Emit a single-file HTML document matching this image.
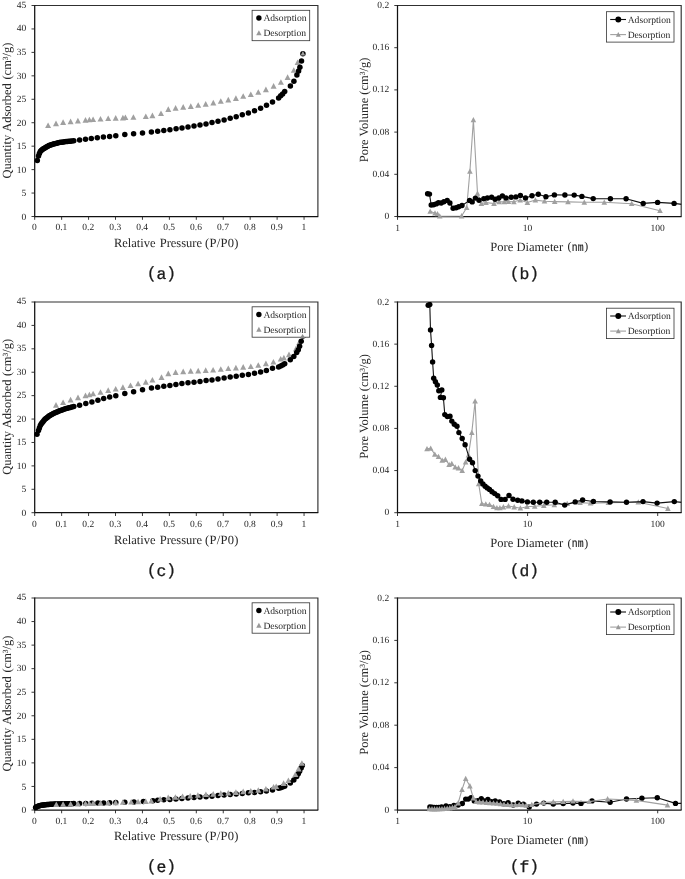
<!DOCTYPE html>
<html><head><meta charset="utf-8"><title>Isotherms and pore size distributions</title>
<style>
html,body{margin:0;padding:0;background:#fff;}
body{width:685px;height:879px;overflow:hidden;font-family:"Liberation Serif",serif;}
svg{display:block;filter:grayscale(1) blur(0.35px);text-rendering:geometricPrecision;}
</style></head><body>
<svg width="685" height="879" viewBox="0 0 685 879">
<rect width="685" height="879" fill="#fff"/>
<path d="M34.7 5.5H317.9V216.5" fill="none" stroke="#303030" stroke-width="1.15"/>
<path d="M34.7 5.1V216.5H318.3" fill="none" stroke="#111" stroke-width="1.25"/>
<path d="M31.5 216.5H34.7" stroke="#222" stroke-width="0.9"/>
<text x="26.2" y="219.65" font-size="9.5" text-anchor="end" font-family="Liberation Serif" fill="#262626" >0</text>
<path d="M31.5 193.06H34.7" stroke="#222" stroke-width="0.9"/>
<text x="26.2" y="196.13" font-size="9.5" text-anchor="end" font-family="Liberation Serif" fill="#262626" >5</text>
<path d="M31.5 169.61H34.7" stroke="#222" stroke-width="0.9"/>
<text x="26.2" y="172.6" font-size="9.5" text-anchor="end" font-family="Liberation Serif" fill="#262626" >10</text>
<path d="M31.5 146.17H34.7" stroke="#222" stroke-width="0.9"/>
<text x="26.2" y="149.08" font-size="9.5" text-anchor="end" font-family="Liberation Serif" fill="#262626" >15</text>
<path d="M31.5 122.72H34.7" stroke="#222" stroke-width="0.9"/>
<text x="26.2" y="125.55" font-size="9.5" text-anchor="end" font-family="Liberation Serif" fill="#262626" >20</text>
<path d="M31.5 99.28H34.7" stroke="#222" stroke-width="0.9"/>
<text x="26.2" y="102.03" font-size="9.5" text-anchor="end" font-family="Liberation Serif" fill="#262626" >25</text>
<path d="M31.5 75.83H34.7" stroke="#222" stroke-width="0.9"/>
<text x="26.2" y="78.5" font-size="9.5" text-anchor="end" font-family="Liberation Serif" fill="#262626" >30</text>
<path d="M31.5 52.39H34.7" stroke="#222" stroke-width="0.9"/>
<text x="26.2" y="54.98" font-size="9.5" text-anchor="end" font-family="Liberation Serif" fill="#262626" >35</text>
<path d="M31.5 28.94H34.7" stroke="#222" stroke-width="0.9"/>
<text x="26.2" y="31.45" font-size="9.5" text-anchor="end" font-family="Liberation Serif" fill="#262626" >40</text>
<path d="M31.5 5.5H34.7" stroke="#222" stroke-width="0.9"/>
<text x="26.2" y="7.93" font-size="9.5" text-anchor="end" font-family="Liberation Serif" fill="#262626" >45</text>
<path d="M34.7 216.5V219.8" stroke="#222" stroke-width="0.9"/>
<text x="34.4" y="230.3" font-size="9.5" text-anchor="middle" font-family="Liberation Serif" fill="#262626" >0</text>
<path d="M61.64 216.5V219.8" stroke="#222" stroke-width="0.9"/>
<text x="61.34" y="230.3" font-size="9.5" text-anchor="middle" font-family="Liberation Serif" fill="#262626" >0.1</text>
<path d="M88.57 216.5V219.8" stroke="#222" stroke-width="0.9"/>
<text x="88.27" y="230.3" font-size="9.5" text-anchor="middle" font-family="Liberation Serif" fill="#262626" >0.2</text>
<path d="M115.51 216.5V219.8" stroke="#222" stroke-width="0.9"/>
<text x="115.21" y="230.3" font-size="9.5" text-anchor="middle" font-family="Liberation Serif" fill="#262626" >0.3</text>
<path d="M142.44 216.5V219.8" stroke="#222" stroke-width="0.9"/>
<text x="142.14" y="230.3" font-size="9.5" text-anchor="middle" font-family="Liberation Serif" fill="#262626" >0.4</text>
<path d="M169.38 216.5V219.8" stroke="#222" stroke-width="0.9"/>
<text x="169.07" y="230.3" font-size="9.5" text-anchor="middle" font-family="Liberation Serif" fill="#262626" >0.5</text>
<path d="M196.31 216.5V219.8" stroke="#222" stroke-width="0.9"/>
<text x="196.01" y="230.3" font-size="9.5" text-anchor="middle" font-family="Liberation Serif" fill="#262626" >0.6</text>
<path d="M223.25 216.5V219.8" stroke="#222" stroke-width="0.9"/>
<text x="222.95" y="230.3" font-size="9.5" text-anchor="middle" font-family="Liberation Serif" fill="#262626" >0.7</text>
<path d="M250.18 216.5V219.8" stroke="#222" stroke-width="0.9"/>
<text x="249.88" y="230.3" font-size="9.5" text-anchor="middle" font-family="Liberation Serif" fill="#262626" >0.8</text>
<path d="M277.12 216.5V219.8" stroke="#222" stroke-width="0.9"/>
<text x="276.81" y="230.3" font-size="9.5" text-anchor="middle" font-family="Liberation Serif" fill="#262626" >0.9</text>
<path d="M304.05 216.5V219.8" stroke="#222" stroke-width="0.9"/>
<text x="303.75" y="230.3" font-size="9.5" text-anchor="middle" font-family="Liberation Serif" fill="#262626" >1</text>
<text y="247.1" font-size="12.5" font-family="Liberation Serif" fill="#262626"><tspan x="113.9">Relative</tspan><tspan x="159.7">Pressure</tspan><tspan x="205.0" letter-spacing="0.3">(P/P0)</tspan></text>
<text x="0" y="0" font-size="12.5" text-anchor="middle" font-family="Liberation Serif" fill="#262626" word-spacing="0.5" transform="translate(10.9 110.5) rotate(-90)">Quantity Adsorbed (cm³/g)</text>
<path d="M48.1 122.42L51.1 128.02L45.1 128.02Z" fill="#a0a0a0"/>
<path d="M56 120.62L59 126.22L53 126.22Z" fill="#a0a0a0"/>
<path d="M63.1 119.32L66.1 124.92L60.1 124.92Z" fill="#a0a0a0"/>
<path d="M70.6 118.62L73.6 124.22L67.6 124.22Z" fill="#a0a0a0"/>
<path d="M77.9 117.82L80.9 123.42L74.9 123.42Z" fill="#a0a0a0"/>
<path d="M85.5 117.12L88.5 122.72L82.5 122.72Z" fill="#a0a0a0"/>
<path d="M89.4 116.72L92.4 122.32L86.4 122.32Z" fill="#a0a0a0"/>
<path d="M93.1 116.52L96.1 122.12L90.1 122.12Z" fill="#a0a0a0"/>
<path d="M100.5 116.02L103.5 121.62L97.5 121.62Z" fill="#a0a0a0"/>
<path d="M108.2 115.52L111.2 121.12L105.2 121.12Z" fill="#a0a0a0"/>
<path d="M115.7 115.12L118.7 120.72L112.7 120.72Z" fill="#a0a0a0"/>
<path d="M122.9 114.82L125.9 120.42L119.9 120.42Z" fill="#a0a0a0"/>
<path d="M125.4 114.52L128.4 120.12L122.4 120.12Z" fill="#a0a0a0"/>
<path d="M133.4 114.22L136.4 119.82L130.4 119.82Z" fill="#a0a0a0"/>
<path d="M145.8 113.52L148.8 119.12L142.8 119.12Z" fill="#a0a0a0"/>
<path d="M152.4 112.62L155.4 118.22L149.4 118.22Z" fill="#a0a0a0"/>
<path d="M161 110.42L164 116.02L158 116.02Z" fill="#a0a0a0"/>
<path d="M168.3 106.32L171.3 111.92L165.3 111.92Z" fill="#a0a0a0"/>
<path d="M175.6 105.12L178.6 110.72L172.6 110.72Z" fill="#a0a0a0"/>
<path d="M183.2 104.12L186.2 109.72L180.2 109.72Z" fill="#a0a0a0"/>
<path d="M190.8 103.32L193.8 108.92L187.8 108.92Z" fill="#a0a0a0"/>
<path d="M198.2 102.22L201.2 107.82L195.2 107.82Z" fill="#a0a0a0"/>
<path d="M205.7 101.12L208.7 106.72L202.7 106.72Z" fill="#a0a0a0"/>
<path d="M213.3 99.82L216.3 105.42L210.3 105.42Z" fill="#a0a0a0"/>
<path d="M220.8 98.22L223.8 103.82L217.8 103.82Z" fill="#a0a0a0"/>
<path d="M228.3 96.82L231.3 102.42L225.3 102.42Z" fill="#a0a0a0"/>
<path d="M235.9 95.32L238.9 100.92L232.9 100.92Z" fill="#a0a0a0"/>
<path d="M243.2 93.22L246.2 98.82L240.2 98.82Z" fill="#a0a0a0"/>
<path d="M250.8 91.52L253.8 97.12L247.8 97.12Z" fill="#a0a0a0"/>
<path d="M258.3 89.22L261.3 94.82L255.3 94.82Z" fill="#a0a0a0"/>
<path d="M265.9 86.62L268.9 92.22L262.9 92.22Z" fill="#a0a0a0"/>
<path d="M273.6 83.12L276.6 88.72L270.6 88.72Z" fill="#a0a0a0"/>
<path d="M280.9 79.22L283.9 84.82L277.9 84.82Z" fill="#a0a0a0"/>
<path d="M287.6 74.32L290.6 79.92L284.6 79.92Z" fill="#a0a0a0"/>
<path d="M293.8 67.22L296.8 72.82L290.8 72.82Z" fill="#a0a0a0"/>
<path d="M297.6 59.42L300.6 65.02L294.6 65.02Z" fill="#a0a0a0"/>
<circle cx="37.3" cy="160.5" r="2.75" fill="#000"/>
<circle cx="38.5" cy="156" r="2.75" fill="#000"/>
<circle cx="39.4" cy="153.43" r="2.75" fill="#000"/>
<circle cx="40.3" cy="151.53" r="2.75" fill="#000"/>
<circle cx="41.2" cy="150.48" r="2.75" fill="#000"/>
<circle cx="42.1" cy="149.65" r="2.75" fill="#000"/>
<circle cx="43" cy="149.09" r="2.75" fill="#000"/>
<circle cx="43.9" cy="148.53" r="2.75" fill="#000"/>
<circle cx="44.9" cy="147.92" r="2.75" fill="#000"/>
<circle cx="45.9" cy="147.33" r="2.75" fill="#000"/>
<circle cx="46.9" cy="146.74" r="2.75" fill="#000"/>
<circle cx="47.9" cy="146.15" r="2.75" fill="#000"/>
<circle cx="48.9" cy="145.56" r="2.75" fill="#000"/>
<circle cx="50" cy="145.16" r="2.75" fill="#000"/>
<circle cx="51.1" cy="144.78" r="2.75" fill="#000"/>
<circle cx="52.2" cy="144.41" r="2.75" fill="#000"/>
<circle cx="53.3" cy="144.03" r="2.75" fill="#000"/>
<circle cx="54.5" cy="143.73" r="2.75" fill="#000"/>
<circle cx="55.7" cy="143.44" r="2.75" fill="#000"/>
<circle cx="56.9" cy="143.16" r="2.75" fill="#000"/>
<circle cx="58.1" cy="142.87" r="2.75" fill="#000"/>
<circle cx="59.4" cy="142.57" r="2.75" fill="#000"/>
<circle cx="60.7" cy="142.37" r="2.75" fill="#000"/>
<circle cx="62" cy="142.18" r="2.75" fill="#000"/>
<circle cx="63.3" cy="141.98" r="2.75" fill="#000"/>
<circle cx="64.7" cy="141.77" r="2.75" fill="#000"/>
<circle cx="66.1" cy="141.56" r="2.75" fill="#000"/>
<circle cx="67.5" cy="141.4" r="2.75" fill="#000"/>
<circle cx="68.9" cy="141.27" r="2.75" fill="#000"/>
<circle cx="70.4" cy="141.13" r="2.75" fill="#000"/>
<circle cx="71.9" cy="140.98" r="2.75" fill="#000"/>
<circle cx="73.8" cy="140.8" r="2.75" fill="#000"/>
<circle cx="79.6" cy="139.9" r="2.75" fill="#000"/>
<circle cx="85.5" cy="139.2" r="2.75" fill="#000"/>
<circle cx="91.3" cy="138.5" r="2.75" fill="#000"/>
<circle cx="97.3" cy="137.7" r="2.75" fill="#000"/>
<circle cx="103.4" cy="137" r="2.75" fill="#000"/>
<circle cx="109.6" cy="136.4" r="2.75" fill="#000"/>
<circle cx="115.8" cy="135.8" r="2.75" fill="#000"/>
<circle cx="124.8" cy="134.6" r="2.75" fill="#000"/>
<circle cx="133.6" cy="133.8" r="2.75" fill="#000"/>
<circle cx="142.5" cy="133.1" r="2.75" fill="#000"/>
<circle cx="151.4" cy="132" r="2.75" fill="#000"/>
<circle cx="157.7" cy="131.2" r="2.75" fill="#000"/>
<circle cx="163.8" cy="130.4" r="2.75" fill="#000"/>
<circle cx="169.9" cy="129.7" r="2.75" fill="#000"/>
<circle cx="176.1" cy="128.8" r="2.75" fill="#000"/>
<circle cx="182" cy="128" r="2.75" fill="#000"/>
<circle cx="188" cy="126.9" r="2.75" fill="#000"/>
<circle cx="194" cy="126.1" r="2.75" fill="#000"/>
<circle cx="200" cy="125" r="2.75" fill="#000"/>
<circle cx="206" cy="123.9" r="2.75" fill="#000"/>
<circle cx="212" cy="122.6" r="2.75" fill="#000"/>
<circle cx="218" cy="121.2" r="2.75" fill="#000"/>
<circle cx="224.1" cy="119.9" r="2.75" fill="#000"/>
<circle cx="230.2" cy="118.3" r="2.75" fill="#000"/>
<circle cx="236.2" cy="116.7" r="2.75" fill="#000"/>
<circle cx="242.3" cy="114.8" r="2.75" fill="#000"/>
<circle cx="248.4" cy="113" r="2.75" fill="#000"/>
<circle cx="254.5" cy="110.8" r="2.75" fill="#000"/>
<circle cx="260.6" cy="108.2" r="2.75" fill="#000"/>
<circle cx="266.5" cy="105.3" r="2.75" fill="#000"/>
<circle cx="272.5" cy="101.9" r="2.75" fill="#000"/>
<circle cx="278.6" cy="97.9" r="2.75" fill="#000"/>
<circle cx="280.7" cy="95.8" r="2.75" fill="#000"/>
<circle cx="282.6" cy="93.9" r="2.75" fill="#000"/>
<circle cx="284.7" cy="91.5" r="2.75" fill="#000"/>
<circle cx="290.4" cy="86.1" r="2.75" fill="#000"/>
<circle cx="293.9" cy="81.2" r="2.75" fill="#000"/>
<circle cx="296.9" cy="75" r="2.75" fill="#000"/>
<circle cx="298.6" cy="70.9" r="2.75" fill="#000"/>
<circle cx="299.9" cy="67.2" r="2.75" fill="#000"/>
<circle cx="301.5" cy="61.1" r="2.75" fill="#000"/>
<circle cx="302.9" cy="53.7" r="2.75" fill="#000"/>
<path d="M302.9 50.97L305.2 55.57L300.6 55.57Z" fill="#a0a0a0"/>
<rect x="252.1" y="10.3" width="57.6" height="30.4" fill="#fff" stroke="#333" stroke-width="0.8"/>
<circle cx="258.9" cy="18" r="2.7" fill="#000"/>
<text x="263.4" y="21.1" font-size="9.6" text-anchor="start" font-family="Liberation Serif" fill="#262626" >Adsorption</text>
<path d="M258.9 30.35L261.6 35.35L256.2 35.35Z" fill="#999"/>
<text x="263.4" y="36.1" font-size="9.6" text-anchor="start" font-family="Liberation Serif" fill="#262626" >Desorption</text>
<text x="161.4" y="278.6" font-size="16.4" text-anchor="middle" font-family="Liberation Mono" fill="#1a1a1a" stroke="#1a1a1a" stroke-width="0.3"><tspan dy="-0.8">(</tspan><tspan dy="0.8">a</tspan><tspan dy="-0.8">)</tspan></text>
<path d="M397.5 5.5H681.2V216.5" fill="none" stroke="#303030" stroke-width="1.15"/>
<path d="M397.5 5.1V216.5H681.6" fill="none" stroke="#111" stroke-width="1.25"/>
<path d="M394.3 216.5H397.5" stroke="#222" stroke-width="0.9"/>
<text x="389.2" y="219" font-size="9.5" text-anchor="end" font-family="Liberation Serif" fill="#262626" >0</text>
<path d="M394.3 174.3H397.5" stroke="#222" stroke-width="0.9"/>
<text x="389.2" y="176.8" font-size="9.5" text-anchor="end" font-family="Liberation Serif" fill="#262626" >0.04</text>
<path d="M394.3 132.1H397.5" stroke="#222" stroke-width="0.9"/>
<text x="389.2" y="134.6" font-size="9.5" text-anchor="end" font-family="Liberation Serif" fill="#262626" >0.08</text>
<path d="M394.3 89.9H397.5" stroke="#222" stroke-width="0.9"/>
<text x="389.2" y="92.4" font-size="9.5" text-anchor="end" font-family="Liberation Serif" fill="#262626" >0.12</text>
<path d="M394.3 47.7H397.5" stroke="#222" stroke-width="0.9"/>
<text x="389.2" y="50.2" font-size="9.5" text-anchor="end" font-family="Liberation Serif" fill="#262626" >0.16</text>
<path d="M394.3 5.5H397.5" stroke="#222" stroke-width="0.9"/>
<text x="389.2" y="8" font-size="9.5" text-anchor="end" font-family="Liberation Serif" fill="#262626" >0.2</text>
<path d="M397.5 216.5V219.8" stroke="#222" stroke-width="0.9"/>
<text x="397.5" y="230.7" font-size="9.5" text-anchor="middle" font-family="Liberation Serif" fill="#262626" >1</text>
<path d="M527.6 216.5V219.8" stroke="#222" stroke-width="0.9"/>
<text x="527.6" y="230.7" font-size="9.5" text-anchor="middle" font-family="Liberation Serif" fill="#262626" >10</text>
<path d="M657.7 216.5V219.8" stroke="#222" stroke-width="0.9"/>
<text x="657.7" y="230.7" font-size="9.5" text-anchor="middle" font-family="Liberation Serif" fill="#262626" >100</text>
<text x="490.3" y="250.5" font-size="12.55" text-anchor="start" font-family="Liberation Serif" fill="#262626" >Pore Diameter</text>
<text x="567.5" y="250.3" font-size="11.9" text-anchor="start" font-family="Liberation Serif" fill="#262626" >(</text>
<text x="571.8" y="250.5" font-size="12.2" font-family="Liberation Mono" fill="#262626" stroke="#262626" stroke-width="0.2" textLength="11.8" lengthAdjust="spacingAndGlyphs">nm</text>
<text x="584.2" y="250.3" font-size="11.9" text-anchor="start" font-family="Liberation Serif" fill="#262626" >)</text>
<text x="0" y="0" font-size="12.5" text-anchor="middle" font-family="Liberation Serif" fill="#262626" transform="translate(367.7 109.95) rotate(-90)">Pore Volume (cm³/g)</text>
<clipPath id="cb"><rect x="397.5" y="5.5" width="283.7" height="215"/></clipPath>
<g clip-path="url(#cb)">
<polyline points="430.2,211.3 435,213.2 437.5,213.8 439.7,216.2 461.6,216 466.7,207.7 469.9,171.3 473.4,119.8 477.5,193.3 481.4,203.5 486,202.6 494,203.5 499.2,201.8 504.3,201.9 508.4,201.5 513.9,201.8 520.2,200 527.4,202.6 535.4,200.1 544.5,201.2 554.7,201.6 568,201.9 584.3,202.3 604.3,202.3 631.7,203.7 660,210.7" fill="none" stroke="#a0a0a0" stroke-width="1.1" stroke-linejoin="round"/>
<path d="M430.2 208.39L433 213.69L427.4 213.69Z" fill="#a0a0a0"/>
<path d="M435 210.28L437.8 215.58L432.2 215.58Z" fill="#a0a0a0"/>
<path d="M437.5 210.89L440.3 216.19L434.7 216.19Z" fill="#a0a0a0"/>
<path d="M439.7 213.28L442.5 218.58L436.9 218.58Z" fill="#a0a0a0"/>
<path d="M461.6 213.09L464.4 218.38L458.8 218.38Z" fill="#a0a0a0"/>
<path d="M466.7 204.78L469.5 210.08L463.9 210.08Z" fill="#a0a0a0"/>
<path d="M469.9 168.39L472.7 173.69L467.1 173.69Z" fill="#a0a0a0"/>
<path d="M473.4 116.88L476.2 122.19L470.6 122.19Z" fill="#a0a0a0"/>
<path d="M477.5 190.39L480.3 195.69L474.7 195.69Z" fill="#a0a0a0"/>
<path d="M481.4 200.59L484.2 205.88L478.6 205.88Z" fill="#a0a0a0"/>
<path d="M486 199.69L488.8 204.98L483.2 204.98Z" fill="#a0a0a0"/>
<path d="M494 200.59L496.8 205.88L491.2 205.88Z" fill="#a0a0a0"/>
<path d="M499.2 198.89L502 204.19L496.4 204.19Z" fill="#a0a0a0"/>
<path d="M504.3 198.99L507.1 204.28L501.5 204.28Z" fill="#a0a0a0"/>
<path d="M508.4 198.59L511.2 203.88L505.6 203.88Z" fill="#a0a0a0"/>
<path d="M513.9 198.89L516.7 204.19L511.1 204.19Z" fill="#a0a0a0"/>
<path d="M520.2 197.09L523 202.38L517.4 202.38Z" fill="#a0a0a0"/>
<path d="M527.4 199.69L530.2 204.98L524.6 204.98Z" fill="#a0a0a0"/>
<path d="M535.4 197.19L538.2 202.48L532.6 202.48Z" fill="#a0a0a0"/>
<path d="M544.5 198.28L547.3 203.58L541.7 203.58Z" fill="#a0a0a0"/>
<path d="M554.7 198.69L557.5 203.98L551.9 203.98Z" fill="#a0a0a0"/>
<path d="M568 198.99L570.8 204.28L565.2 204.28Z" fill="#a0a0a0"/>
<path d="M584.3 199.39L587.1 204.69L581.5 204.69Z" fill="#a0a0a0"/>
<path d="M604.3 199.39L607.1 204.69L601.5 204.69Z" fill="#a0a0a0"/>
<path d="M631.7 200.78L634.5 206.08L628.9 206.08Z" fill="#a0a0a0"/>
<path d="M660 207.78L662.8 213.08L657.2 213.08Z" fill="#a0a0a0"/>
<polyline points="427.6,193.8 429.5,194.1 431.2,205 433.6,204.7 436.1,203.9 438.4,202.7 441.2,203 443.9,201.8 447.2,200.4 449.9,203 453.1,208.2 456.1,207.7 458.7,206.8 462,205.5 469.6,200.4 472.2,201.9 475.4,198.1 479,200.3 483.8,198.8 487.4,198 491.6,197.3 495.1,199.2 498.8,198 502.4,195.9 506,198 511.2,197.3 515.9,196.9 520.4,195.4 525.5,198 532,195.8 538.3,194.2 545.9,196.8 554.4,194.9 564.9,195 574.2,195.1 581.9,196.4 593.2,198.6 610.4,198.8 626.1,198.8 643.2,203.4 657.6,202.4 674.1,203.4 682,204.4" fill="none" stroke="#111" stroke-width="1.1" stroke-linejoin="round"/>
<circle cx="427.6" cy="193.8" r="2.7" fill="#000"/>
<circle cx="429.5" cy="194.1" r="2.7" fill="#000"/>
<circle cx="431.2" cy="205" r="2.7" fill="#000"/>
<circle cx="433.6" cy="204.7" r="2.7" fill="#000"/>
<circle cx="436.1" cy="203.9" r="2.7" fill="#000"/>
<circle cx="438.4" cy="202.7" r="2.7" fill="#000"/>
<circle cx="441.2" cy="203" r="2.7" fill="#000"/>
<circle cx="443.9" cy="201.8" r="2.7" fill="#000"/>
<circle cx="447.2" cy="200.4" r="2.7" fill="#000"/>
<circle cx="449.9" cy="203" r="2.7" fill="#000"/>
<circle cx="453.1" cy="208.2" r="2.7" fill="#000"/>
<circle cx="456.1" cy="207.7" r="2.7" fill="#000"/>
<circle cx="458.7" cy="206.8" r="2.7" fill="#000"/>
<circle cx="462" cy="205.5" r="2.7" fill="#000"/>
<circle cx="469.6" cy="200.4" r="2.7" fill="#000"/>
<circle cx="472.2" cy="201.9" r="2.7" fill="#000"/>
<circle cx="475.4" cy="198.1" r="2.7" fill="#000"/>
<circle cx="479" cy="200.3" r="2.7" fill="#000"/>
<circle cx="483.8" cy="198.8" r="2.7" fill="#000"/>
<circle cx="487.4" cy="198" r="2.7" fill="#000"/>
<circle cx="491.6" cy="197.3" r="2.7" fill="#000"/>
<circle cx="495.1" cy="199.2" r="2.7" fill="#000"/>
<circle cx="498.8" cy="198" r="2.7" fill="#000"/>
<circle cx="502.4" cy="195.9" r="2.7" fill="#000"/>
<circle cx="506" cy="198" r="2.7" fill="#000"/>
<circle cx="511.2" cy="197.3" r="2.7" fill="#000"/>
<circle cx="515.9" cy="196.9" r="2.7" fill="#000"/>
<circle cx="520.4" cy="195.4" r="2.7" fill="#000"/>
<circle cx="525.5" cy="198" r="2.7" fill="#000"/>
<circle cx="532" cy="195.8" r="2.7" fill="#000"/>
<circle cx="538.3" cy="194.2" r="2.7" fill="#000"/>
<circle cx="545.9" cy="196.8" r="2.7" fill="#000"/>
<circle cx="554.4" cy="194.9" r="2.7" fill="#000"/>
<circle cx="564.9" cy="195" r="2.7" fill="#000"/>
<circle cx="574.2" cy="195.1" r="2.7" fill="#000"/>
<circle cx="581.9" cy="196.4" r="2.7" fill="#000"/>
<circle cx="593.2" cy="198.6" r="2.7" fill="#000"/>
<circle cx="610.4" cy="198.8" r="2.7" fill="#000"/>
<circle cx="626.1" cy="198.8" r="2.7" fill="#000"/>
<circle cx="643.2" cy="203.4" r="2.7" fill="#000"/>
<circle cx="657.6" cy="202.4" r="2.7" fill="#000"/>
<circle cx="674.1" cy="203.4" r="2.7" fill="#000"/>
</g>
<rect x="606.5" y="11.7" width="67.5" height="30.4" fill="#fff" stroke="#333" stroke-width="0.8"/>
<path d="M610.2 19.5H626" stroke="#111" stroke-width="1.1"/>
<circle cx="618.3" cy="19.5" r="2.95" fill="#000"/>
<text x="627.7" y="22.6" font-size="9.6" text-anchor="start" font-family="Liberation Serif" fill="#262626" >Adsorption</text>
<path d="M610.2 34.6H626" stroke="#a0a0a0" stroke-width="1.1"/>
<path d="M618.3 32.02L620.75 36.72L615.85 36.72Z" fill="#999"/>
<text x="627.7" y="37.7" font-size="9.6" text-anchor="start" font-family="Liberation Serif" fill="#262626" >Desorption</text>
<text x="524.4" y="278.6" font-size="16.4" text-anchor="middle" font-family="Liberation Mono" fill="#1a1a1a" stroke="#1a1a1a" stroke-width="0.3"><tspan dy="-0.8">(</tspan><tspan dy="0.8">b</tspan><tspan dy="-0.8">)</tspan></text>
<path d="M34.7 302H317.9V512.7" fill="none" stroke="#303030" stroke-width="1.15"/>
<path d="M34.7 301.6V512.7H318.3" fill="none" stroke="#111" stroke-width="1.25"/>
<path d="M31.5 512.7H34.7" stroke="#222" stroke-width="0.9"/>
<text x="26.2" y="515.85" font-size="9.5" text-anchor="end" font-family="Liberation Serif" fill="#262626" >0</text>
<path d="M31.5 489.29H34.7" stroke="#222" stroke-width="0.9"/>
<text x="26.2" y="492.36" font-size="9.5" text-anchor="end" font-family="Liberation Serif" fill="#262626" >5</text>
<path d="M31.5 465.88H34.7" stroke="#222" stroke-width="0.9"/>
<text x="26.2" y="468.87" font-size="9.5" text-anchor="end" font-family="Liberation Serif" fill="#262626" >10</text>
<path d="M31.5 442.47H34.7" stroke="#222" stroke-width="0.9"/>
<text x="26.2" y="445.38" font-size="9.5" text-anchor="end" font-family="Liberation Serif" fill="#262626" >15</text>
<path d="M31.5 419.06H34.7" stroke="#222" stroke-width="0.9"/>
<text x="26.2" y="421.89" font-size="9.5" text-anchor="end" font-family="Liberation Serif" fill="#262626" >20</text>
<path d="M31.5 395.64H34.7" stroke="#222" stroke-width="0.9"/>
<text x="26.2" y="398.39" font-size="9.5" text-anchor="end" font-family="Liberation Serif" fill="#262626" >25</text>
<path d="M31.5 372.23H34.7" stroke="#222" stroke-width="0.9"/>
<text x="26.2" y="374.9" font-size="9.5" text-anchor="end" font-family="Liberation Serif" fill="#262626" >30</text>
<path d="M31.5 348.82H34.7" stroke="#222" stroke-width="0.9"/>
<text x="26.2" y="351.41" font-size="9.5" text-anchor="end" font-family="Liberation Serif" fill="#262626" >35</text>
<path d="M31.5 325.41H34.7" stroke="#222" stroke-width="0.9"/>
<text x="26.2" y="327.92" font-size="9.5" text-anchor="end" font-family="Liberation Serif" fill="#262626" >40</text>
<path d="M31.5 302H34.7" stroke="#222" stroke-width="0.9"/>
<text x="26.2" y="304.43" font-size="9.5" text-anchor="end" font-family="Liberation Serif" fill="#262626" >45</text>
<path d="M34.7 512.7V516" stroke="#222" stroke-width="0.9"/>
<text x="34.4" y="527.2" font-size="9.5" text-anchor="middle" font-family="Liberation Serif" fill="#262626" >0</text>
<path d="M61.64 512.7V516" stroke="#222" stroke-width="0.9"/>
<text x="61.34" y="527.2" font-size="9.5" text-anchor="middle" font-family="Liberation Serif" fill="#262626" >0.1</text>
<path d="M88.57 512.7V516" stroke="#222" stroke-width="0.9"/>
<text x="88.27" y="527.2" font-size="9.5" text-anchor="middle" font-family="Liberation Serif" fill="#262626" >0.2</text>
<path d="M115.51 512.7V516" stroke="#222" stroke-width="0.9"/>
<text x="115.21" y="527.2" font-size="9.5" text-anchor="middle" font-family="Liberation Serif" fill="#262626" >0.3</text>
<path d="M142.44 512.7V516" stroke="#222" stroke-width="0.9"/>
<text x="142.14" y="527.2" font-size="9.5" text-anchor="middle" font-family="Liberation Serif" fill="#262626" >0.4</text>
<path d="M169.38 512.7V516" stroke="#222" stroke-width="0.9"/>
<text x="169.07" y="527.2" font-size="9.5" text-anchor="middle" font-family="Liberation Serif" fill="#262626" >0.5</text>
<path d="M196.31 512.7V516" stroke="#222" stroke-width="0.9"/>
<text x="196.01" y="527.2" font-size="9.5" text-anchor="middle" font-family="Liberation Serif" fill="#262626" >0.6</text>
<path d="M223.25 512.7V516" stroke="#222" stroke-width="0.9"/>
<text x="222.95" y="527.2" font-size="9.5" text-anchor="middle" font-family="Liberation Serif" fill="#262626" >0.7</text>
<path d="M250.18 512.7V516" stroke="#222" stroke-width="0.9"/>
<text x="249.88" y="527.2" font-size="9.5" text-anchor="middle" font-family="Liberation Serif" fill="#262626" >0.8</text>
<path d="M277.12 512.7V516" stroke="#222" stroke-width="0.9"/>
<text x="276.81" y="527.2" font-size="9.5" text-anchor="middle" font-family="Liberation Serif" fill="#262626" >0.9</text>
<path d="M304.05 512.7V516" stroke="#222" stroke-width="0.9"/>
<text x="303.75" y="527.2" font-size="9.5" text-anchor="middle" font-family="Liberation Serif" fill="#262626" >1</text>
<text y="543.7" font-size="12.5" font-family="Liberation Serif" fill="#262626"><tspan x="113.9">Relative</tspan><tspan x="159.7">Pressure</tspan><tspan x="205.0" letter-spacing="0.3">(P/P0)</tspan></text>
<text x="0" y="0" font-size="12.5" text-anchor="middle" font-family="Liberation Serif" fill="#262626" word-spacing="0.5" transform="translate(10.9 406.85) rotate(-90)">Quantity Adsorbed (cm³/g)</text>
<path d="M56 402.12L59 407.72L53 407.72Z" fill="#a0a0a0"/>
<path d="M63.1 399.52L66.1 405.12L60.1 405.12Z" fill="#a0a0a0"/>
<path d="M70.6 396.82L73.6 402.42L67.6 402.42Z" fill="#a0a0a0"/>
<path d="M78 394.62L81 400.22L75 400.22Z" fill="#a0a0a0"/>
<path d="M85.5 392.62L88.5 398.22L82.5 398.22Z" fill="#a0a0a0"/>
<path d="M89.4 391.72L92.4 397.32L86.4 397.32Z" fill="#a0a0a0"/>
<path d="M93.1 390.72L96.1 396.32L90.1 396.32Z" fill="#a0a0a0"/>
<path d="M100.5 389.22L103.5 394.82L97.5 394.82Z" fill="#a0a0a0"/>
<path d="M108.2 387.32L111.2 392.92L105.2 392.92Z" fill="#a0a0a0"/>
<path d="M115.7 385.92L118.7 391.52L112.7 391.52Z" fill="#a0a0a0"/>
<path d="M122.9 384.32L125.9 389.92L119.9 389.92Z" fill="#a0a0a0"/>
<path d="M130.5 382.42L133.5 388.02L127.5 388.02Z" fill="#a0a0a0"/>
<path d="M138.1 380.72L141.1 386.32L135.1 386.32Z" fill="#a0a0a0"/>
<path d="M145.8 379.12L148.8 384.72L142.8 384.72Z" fill="#a0a0a0"/>
<path d="M152.4 377.02L155.4 382.62L149.4 382.62Z" fill="#a0a0a0"/>
<path d="M161.5 374.32L164.5 379.92L158.5 379.92Z" fill="#a0a0a0"/>
<path d="M168.3 370.62L171.3 376.22L165.3 376.22Z" fill="#a0a0a0"/>
<path d="M175.6 369.32L178.6 374.92L172.6 374.92Z" fill="#a0a0a0"/>
<path d="M183.2 368.62L186.2 374.22L180.2 374.22Z" fill="#a0a0a0"/>
<path d="M190.7 368.12L193.7 373.72L187.7 373.72Z" fill="#a0a0a0"/>
<path d="M198.2 367.82L201.2 373.42L195.2 373.42Z" fill="#a0a0a0"/>
<path d="M205.7 367.32L208.7 372.92L202.7 372.92Z" fill="#a0a0a0"/>
<path d="M213.1 366.92L216.1 372.52L210.1 372.52Z" fill="#a0a0a0"/>
<path d="M220.8 366.22L223.8 371.82L217.8 371.82Z" fill="#a0a0a0"/>
<path d="M228.3 365.42L231.3 371.02L225.3 371.02Z" fill="#a0a0a0"/>
<path d="M235.9 364.82L238.9 370.42L232.9 370.42Z" fill="#a0a0a0"/>
<path d="M243.2 364.12L246.2 369.72L240.2 369.72Z" fill="#a0a0a0"/>
<path d="M250.8 363.52L253.8 369.12L247.8 369.12Z" fill="#a0a0a0"/>
<path d="M258.3 362.22L261.3 367.82L255.3 367.82Z" fill="#a0a0a0"/>
<path d="M265.9 360.62L268.9 366.22L262.9 366.22Z" fill="#a0a0a0"/>
<path d="M273.4 359.02L276.4 364.62L270.4 364.62Z" fill="#a0a0a0"/>
<path d="M280.7 355.92L283.7 361.52L277.7 361.52Z" fill="#a0a0a0"/>
<path d="M283.9 354.82L286.9 360.42L280.9 360.42Z" fill="#a0a0a0"/>
<path d="M289 351.62L292 357.22L286 357.22Z" fill="#a0a0a0"/>
<path d="M295.9 345.82L298.9 351.42L292.9 351.42Z" fill="#a0a0a0"/>
<path d="M299.1 339.72L302.1 345.32L296.1 345.32Z" fill="#a0a0a0"/>
<circle cx="37" cy="434.2" r="2.75" fill="#000"/>
<circle cx="38.5" cy="430.62" r="2.75" fill="#000"/>
<circle cx="39.4" cy="427.88" r="2.75" fill="#000"/>
<circle cx="40.3" cy="425.56" r="2.75" fill="#000"/>
<circle cx="41.2" cy="424.11" r="2.75" fill="#000"/>
<circle cx="42.1" cy="422.79" r="2.75" fill="#000"/>
<circle cx="43" cy="421.64" r="2.75" fill="#000"/>
<circle cx="43.9" cy="420.49" r="2.75" fill="#000"/>
<circle cx="44.9" cy="419.35" r="2.75" fill="#000"/>
<circle cx="45.9" cy="418.54" r="2.75" fill="#000"/>
<circle cx="46.9" cy="417.72" r="2.75" fill="#000"/>
<circle cx="47.9" cy="416.9" r="2.75" fill="#000"/>
<circle cx="48.9" cy="416.08" r="2.75" fill="#000"/>
<circle cx="50" cy="415.43" r="2.75" fill="#000"/>
<circle cx="51.1" cy="414.81" r="2.75" fill="#000"/>
<circle cx="52.2" cy="414.18" r="2.75" fill="#000"/>
<circle cx="53.3" cy="413.56" r="2.75" fill="#000"/>
<circle cx="54.5" cy="413.01" r="2.75" fill="#000"/>
<circle cx="55.7" cy="412.47" r="2.75" fill="#000"/>
<circle cx="56.9" cy="411.93" r="2.75" fill="#000"/>
<circle cx="58.1" cy="411.39" r="2.75" fill="#000"/>
<circle cx="59.4" cy="410.83" r="2.75" fill="#000"/>
<circle cx="60.7" cy="410.39" r="2.75" fill="#000"/>
<circle cx="62" cy="409.94" r="2.75" fill="#000"/>
<circle cx="63.3" cy="409.5" r="2.75" fill="#000"/>
<circle cx="64.7" cy="409.02" r="2.75" fill="#000"/>
<circle cx="66.1" cy="408.54" r="2.75" fill="#000"/>
<circle cx="67.5" cy="408.14" r="2.75" fill="#000"/>
<circle cx="68.9" cy="407.78" r="2.75" fill="#000"/>
<circle cx="70.4" cy="407.38" r="2.75" fill="#000"/>
<circle cx="71.9" cy="406.99" r="2.75" fill="#000"/>
<circle cx="73.8" cy="406.5" r="2.75" fill="#000"/>
<circle cx="79.6" cy="405.2" r="2.75" fill="#000"/>
<circle cx="85.8" cy="403.6" r="2.75" fill="#000"/>
<circle cx="91.9" cy="402" r="2.75" fill="#000"/>
<circle cx="97.9" cy="400.2" r="2.75" fill="#000"/>
<circle cx="103.7" cy="398.6" r="2.75" fill="#000"/>
<circle cx="109.7" cy="397" r="2.75" fill="#000"/>
<circle cx="115.8" cy="395.7" r="2.75" fill="#000"/>
<circle cx="124.8" cy="393.6" r="2.75" fill="#000"/>
<circle cx="133.6" cy="391.7" r="2.75" fill="#000"/>
<circle cx="142.5" cy="389.8" r="2.75" fill="#000"/>
<circle cx="151.5" cy="387.9" r="2.75" fill="#000"/>
<circle cx="157.7" cy="387.2" r="2.75" fill="#000"/>
<circle cx="163.8" cy="386.3" r="2.75" fill="#000"/>
<circle cx="169.9" cy="385.4" r="2.75" fill="#000"/>
<circle cx="175.9" cy="384.4" r="2.75" fill="#000"/>
<circle cx="181.9" cy="383.5" r="2.75" fill="#000"/>
<circle cx="188" cy="382.8" r="2.75" fill="#000"/>
<circle cx="194" cy="382.2" r="2.75" fill="#000"/>
<circle cx="200" cy="381.5" r="2.75" fill="#000"/>
<circle cx="206.1" cy="380.6" r="2.75" fill="#000"/>
<circle cx="212" cy="380" r="2.75" fill="#000"/>
<circle cx="218" cy="379" r="2.75" fill="#000"/>
<circle cx="224.1" cy="378" r="2.75" fill="#000"/>
<circle cx="230.2" cy="377" r="2.75" fill="#000"/>
<circle cx="236.2" cy="376.2" r="2.75" fill="#000"/>
<circle cx="242.3" cy="375.2" r="2.75" fill="#000"/>
<circle cx="248.4" cy="374.4" r="2.75" fill="#000"/>
<circle cx="254.5" cy="373.3" r="2.75" fill="#000"/>
<circle cx="260.6" cy="371.9" r="2.75" fill="#000"/>
<circle cx="266.4" cy="370.4" r="2.75" fill="#000"/>
<circle cx="272.5" cy="368.2" r="2.75" fill="#000"/>
<circle cx="278.6" cy="366.9" r="2.75" fill="#000"/>
<circle cx="280.7" cy="365.9" r="2.75" fill="#000"/>
<circle cx="282.6" cy="365" r="2.75" fill="#000"/>
<circle cx="284.7" cy="363.7" r="2.75" fill="#000"/>
<circle cx="290.3" cy="359.8" r="2.75" fill="#000"/>
<circle cx="293.8" cy="356.6" r="2.75" fill="#000"/>
<circle cx="296.7" cy="352.6" r="2.75" fill="#000"/>
<circle cx="298.3" cy="349.7" r="2.75" fill="#000"/>
<circle cx="299.6" cy="346.2" r="2.75" fill="#000"/>
<circle cx="301.2" cy="341.2" r="2.75" fill="#000"/>
<circle cx="303" cy="336" r="2.75" fill="#000"/>
<path d="M303 333.27L305.3 337.87L300.7 337.87Z" fill="#a0a0a0"/>
<rect x="252.1" y="306.8" width="57.6" height="30.4" fill="#fff" stroke="#333" stroke-width="0.8"/>
<circle cx="258.9" cy="314.5" r="2.7" fill="#000"/>
<text x="263.4" y="317.6" font-size="9.6" text-anchor="start" font-family="Liberation Serif" fill="#262626" >Adsorption</text>
<path d="M258.9 326.85L261.6 331.85L256.2 331.85Z" fill="#999"/>
<text x="263.4" y="332.6" font-size="9.6" text-anchor="start" font-family="Liberation Serif" fill="#262626" >Desorption</text>
<path d="M302.6 334.1L305 338.1L300.2 338.1Z" fill="#8c8c8c"/>
<text x="161.4" y="576" font-size="16.4" text-anchor="middle" font-family="Liberation Mono" fill="#1a1a1a" stroke="#1a1a1a" stroke-width="0.3"><tspan dy="-0.8">(</tspan><tspan dy="0.8">c</tspan><tspan dy="-0.8">)</tspan></text>
<path d="M397.5 302H681.2V512.7" fill="none" stroke="#303030" stroke-width="1.15"/>
<path d="M397.5 301.6V512.7H681.6" fill="none" stroke="#111" stroke-width="1.25"/>
<path d="M394.3 512.7H397.5" stroke="#222" stroke-width="0.9"/>
<text x="389.2" y="515.2" font-size="9.5" text-anchor="end" font-family="Liberation Serif" fill="#262626" >0</text>
<path d="M394.3 470.56H397.5" stroke="#222" stroke-width="0.9"/>
<text x="389.2" y="473.06" font-size="9.5" text-anchor="end" font-family="Liberation Serif" fill="#262626" >0.04</text>
<path d="M394.3 428.42H397.5" stroke="#222" stroke-width="0.9"/>
<text x="389.2" y="430.92" font-size="9.5" text-anchor="end" font-family="Liberation Serif" fill="#262626" >0.08</text>
<path d="M394.3 386.28H397.5" stroke="#222" stroke-width="0.9"/>
<text x="389.2" y="388.78" font-size="9.5" text-anchor="end" font-family="Liberation Serif" fill="#262626" >0.12</text>
<path d="M394.3 344.14H397.5" stroke="#222" stroke-width="0.9"/>
<text x="389.2" y="346.64" font-size="9.5" text-anchor="end" font-family="Liberation Serif" fill="#262626" >0.16</text>
<path d="M394.3 302H397.5" stroke="#222" stroke-width="0.9"/>
<text x="389.2" y="304.5" font-size="9.5" text-anchor="end" font-family="Liberation Serif" fill="#262626" >0.2</text>
<path d="M397.5 512.7V516" stroke="#222" stroke-width="0.9"/>
<text x="397.5" y="526.9" font-size="9.5" text-anchor="middle" font-family="Liberation Serif" fill="#262626" >1</text>
<path d="M527.6 512.7V516" stroke="#222" stroke-width="0.9"/>
<text x="527.6" y="526.9" font-size="9.5" text-anchor="middle" font-family="Liberation Serif" fill="#262626" >10</text>
<path d="M657.7 512.7V516" stroke="#222" stroke-width="0.9"/>
<text x="657.7" y="526.9" font-size="9.5" text-anchor="middle" font-family="Liberation Serif" fill="#262626" >100</text>
<text x="490.3" y="547.2" font-size="12.55" text-anchor="start" font-family="Liberation Serif" fill="#262626" >Pore Diameter</text>
<text x="567.5" y="547" font-size="11.9" text-anchor="start" font-family="Liberation Serif" fill="#262626" >(</text>
<text x="571.8" y="547.2" font-size="12.2" font-family="Liberation Mono" fill="#262626" stroke="#262626" stroke-width="0.2" textLength="11.8" lengthAdjust="spacingAndGlyphs">nm</text>
<text x="584.2" y="547" font-size="11.9" text-anchor="start" font-family="Liberation Serif" fill="#262626" >)</text>
<text x="0" y="0" font-size="12.5" text-anchor="middle" font-family="Liberation Serif" fill="#262626" transform="translate(367.7 406.45) rotate(-90)">Pore Volume (cm³/g)</text>
<clipPath id="cd"><rect x="397.5" y="302" width="283.7" height="214.7"/></clipPath>
<g clip-path="url(#cd)">
<polyline points="427,448.9 430.7,448.4 434.8,454.3 438.5,456.6 442.2,460.3 445.4,459.5 449.1,464.7 451.8,463.7 455.2,467.2 458.5,468 462.2,470.6 465.6,462.2 468.5,455.1 471.8,432.6 475.1,401.1 478.7,483.9 481.8,503.6 485.8,504.2 489.5,504.6 493.5,506.6 496.9,507.9 499.9,507.9 503.4,507 508.5,506 514.2,507 520.4,508.2 527,506.7 534.7,506.3 543.8,505.5 554.3,504.8 567.2,503.6 580,502.6 590.5,503.2 608.4,502.6 638.3,502.2 667.9,508.5" fill="none" stroke="#a0a0a0" stroke-width="1.1" stroke-linejoin="round"/>
<path d="M427 445.98L429.8 451.28L424.2 451.28Z" fill="#a0a0a0"/>
<path d="M430.7 445.48L433.5 450.78L427.9 450.78Z" fill="#a0a0a0"/>
<path d="M434.8 451.38L437.6 456.69L432 456.69Z" fill="#a0a0a0"/>
<path d="M438.5 453.69L441.3 458.99L435.7 458.99Z" fill="#a0a0a0"/>
<path d="M442.2 457.38L445 462.69L439.4 462.69Z" fill="#a0a0a0"/>
<path d="M445.4 456.58L448.2 461.88L442.6 461.88Z" fill="#a0a0a0"/>
<path d="M449.1 461.78L451.9 467.08L446.3 467.08Z" fill="#a0a0a0"/>
<path d="M451.8 460.78L454.6 466.08L449 466.08Z" fill="#a0a0a0"/>
<path d="M455.2 464.28L458 469.58L452.4 469.58Z" fill="#a0a0a0"/>
<path d="M458.5 465.08L461.3 470.38L455.7 470.38Z" fill="#a0a0a0"/>
<path d="M462.2 467.69L465 472.99L459.4 472.99Z" fill="#a0a0a0"/>
<path d="M465.6 459.28L468.4 464.58L462.8 464.58Z" fill="#a0a0a0"/>
<path d="M468.5 452.19L471.3 457.49L465.7 457.49Z" fill="#a0a0a0"/>
<path d="M471.8 429.69L474.6 434.99L469 434.99Z" fill="#a0a0a0"/>
<path d="M475.1 398.19L477.9 403.49L472.3 403.49Z" fill="#a0a0a0"/>
<path d="M478.7 480.98L481.5 486.28L475.9 486.28Z" fill="#a0a0a0"/>
<path d="M481.8 500.69L484.6 505.99L479 505.99Z" fill="#a0a0a0"/>
<path d="M485.8 501.28L488.6 506.58L483 506.58Z" fill="#a0a0a0"/>
<path d="M489.5 501.69L492.3 506.99L486.7 506.99Z" fill="#a0a0a0"/>
<path d="M493.5 503.69L496.3 508.99L490.7 508.99Z" fill="#a0a0a0"/>
<path d="M496.9 504.98L499.7 510.28L494.1 510.28Z" fill="#a0a0a0"/>
<path d="M499.9 504.98L502.7 510.28L497.1 510.28Z" fill="#a0a0a0"/>
<path d="M503.4 504.08L506.2 509.38L500.6 509.38Z" fill="#a0a0a0"/>
<path d="M508.5 503.08L511.3 508.38L505.7 508.38Z" fill="#a0a0a0"/>
<path d="M514.2 504.08L517 509.38L511.4 509.38Z" fill="#a0a0a0"/>
<path d="M520.4 505.28L523.2 510.58L517.6 510.58Z" fill="#a0a0a0"/>
<path d="M527 503.78L529.8 509.08L524.2 509.08Z" fill="#a0a0a0"/>
<path d="M534.7 503.38L537.5 508.69L531.9 508.69Z" fill="#a0a0a0"/>
<path d="M543.8 502.58L546.6 507.88L541 507.88Z" fill="#a0a0a0"/>
<path d="M554.3 501.88L557.1 507.19L551.5 507.19Z" fill="#a0a0a0"/>
<path d="M567.2 500.69L570 505.99L564.4 505.99Z" fill="#a0a0a0"/>
<path d="M580 499.69L582.8 504.99L577.2 504.99Z" fill="#a0a0a0"/>
<path d="M590.5 500.28L593.3 505.58L587.7 505.58Z" fill="#a0a0a0"/>
<path d="M608.4 499.69L611.2 504.99L605.6 504.99Z" fill="#a0a0a0"/>
<path d="M638.3 499.28L641.1 504.58L635.5 504.58Z" fill="#a0a0a0"/>
<path d="M667.9 505.58L670.7 510.88L665.1 510.88Z" fill="#a0a0a0"/>
<polyline points="428.2,305.3 429.8,304.6 430.5,329.9 431.6,345.4 432.6,361.9 433.7,378.3 435.4,381.7 437.3,385 438.8,390.8 441.8,390 440.4,397.4 443.4,397.7 444.8,414.6 447.4,416.6 450,416.3 451.8,421.1 454.3,424.3 457,426.2 458.9,432.6 462.2,438.5 465.1,444.7 469.6,459.2 472.5,462.8 475.2,470.6 478,476.1 480.7,481 482.9,483.9 485.1,486.2 487.3,487.9 489.5,489.4 492,491.8 494.7,493.6 497.7,495.8 501.1,499.4 505.1,499.4 509,495.5 513,499.2 517.7,500.3 521.9,500.9 527.4,501.9 533.3,502.2 539.7,502.2 546.7,502.3 555.2,502.3 564.7,505.1 575.2,501.9 582.6,500 593.4,501.5 610.1,501.9 626.5,502.2 643,501.6 657.1,503.1 674.3,501.6 682,502.4" fill="none" stroke="#111" stroke-width="1.1" stroke-linejoin="round"/>
<circle cx="428.2" cy="305.3" r="2.7" fill="#000"/>
<circle cx="429.8" cy="304.6" r="2.7" fill="#000"/>
<circle cx="430.5" cy="329.9" r="2.7" fill="#000"/>
<circle cx="431.6" cy="345.4" r="2.7" fill="#000"/>
<circle cx="432.6" cy="361.9" r="2.7" fill="#000"/>
<circle cx="433.7" cy="378.3" r="2.7" fill="#000"/>
<circle cx="435.4" cy="381.7" r="2.7" fill="#000"/>
<circle cx="437.3" cy="385" r="2.7" fill="#000"/>
<circle cx="438.8" cy="390.8" r="2.7" fill="#000"/>
<circle cx="441.8" cy="390" r="2.7" fill="#000"/>
<circle cx="440.4" cy="397.4" r="2.7" fill="#000"/>
<circle cx="443.4" cy="397.7" r="2.7" fill="#000"/>
<circle cx="444.8" cy="414.6" r="2.7" fill="#000"/>
<circle cx="447.4" cy="416.6" r="2.7" fill="#000"/>
<circle cx="450" cy="416.3" r="2.7" fill="#000"/>
<circle cx="451.8" cy="421.1" r="2.7" fill="#000"/>
<circle cx="454.3" cy="424.3" r="2.7" fill="#000"/>
<circle cx="457" cy="426.2" r="2.7" fill="#000"/>
<circle cx="458.9" cy="432.6" r="2.7" fill="#000"/>
<circle cx="462.2" cy="438.5" r="2.7" fill="#000"/>
<circle cx="465.1" cy="444.7" r="2.7" fill="#000"/>
<circle cx="469.6" cy="459.2" r="2.7" fill="#000"/>
<circle cx="472.5" cy="462.8" r="2.7" fill="#000"/>
<circle cx="475.2" cy="470.6" r="2.7" fill="#000"/>
<circle cx="478" cy="476.1" r="2.7" fill="#000"/>
<circle cx="480.7" cy="481" r="2.7" fill="#000"/>
<circle cx="482.9" cy="483.9" r="2.7" fill="#000"/>
<circle cx="485.1" cy="486.2" r="2.7" fill="#000"/>
<circle cx="487.3" cy="487.9" r="2.7" fill="#000"/>
<circle cx="489.5" cy="489.4" r="2.7" fill="#000"/>
<circle cx="492" cy="491.8" r="2.7" fill="#000"/>
<circle cx="494.7" cy="493.6" r="2.7" fill="#000"/>
<circle cx="497.7" cy="495.8" r="2.7" fill="#000"/>
<circle cx="501.1" cy="499.4" r="2.7" fill="#000"/>
<circle cx="505.1" cy="499.4" r="2.7" fill="#000"/>
<circle cx="509" cy="495.5" r="2.7" fill="#000"/>
<circle cx="513" cy="499.2" r="2.7" fill="#000"/>
<circle cx="517.7" cy="500.3" r="2.7" fill="#000"/>
<circle cx="521.9" cy="500.9" r="2.7" fill="#000"/>
<circle cx="527.4" cy="501.9" r="2.7" fill="#000"/>
<circle cx="533.3" cy="502.2" r="2.7" fill="#000"/>
<circle cx="539.7" cy="502.2" r="2.7" fill="#000"/>
<circle cx="546.7" cy="502.3" r="2.7" fill="#000"/>
<circle cx="555.2" cy="502.3" r="2.7" fill="#000"/>
<circle cx="564.7" cy="505.1" r="2.7" fill="#000"/>
<circle cx="575.2" cy="501.9" r="2.7" fill="#000"/>
<circle cx="582.6" cy="500" r="2.7" fill="#000"/>
<circle cx="593.4" cy="501.5" r="2.7" fill="#000"/>
<circle cx="610.1" cy="501.9" r="2.7" fill="#000"/>
<circle cx="626.5" cy="502.2" r="2.7" fill="#000"/>
<circle cx="643" cy="501.6" r="2.7" fill="#000"/>
<circle cx="657.1" cy="503.1" r="2.7" fill="#000"/>
<circle cx="674.3" cy="501.6" r="2.7" fill="#000"/>
</g>
<rect x="606.5" y="308.2" width="67.5" height="30.4" fill="#fff" stroke="#333" stroke-width="0.8"/>
<path d="M610.2 316H626" stroke="#111" stroke-width="1.1"/>
<circle cx="618.3" cy="316" r="2.95" fill="#000"/>
<text x="627.7" y="319.1" font-size="9.6" text-anchor="start" font-family="Liberation Serif" fill="#262626" >Adsorption</text>
<path d="M610.2 331.1H626" stroke="#a0a0a0" stroke-width="1.1"/>
<path d="M618.3 328.52L620.75 333.22L615.85 333.22Z" fill="#999"/>
<text x="627.7" y="334.2" font-size="9.6" text-anchor="start" font-family="Liberation Serif" fill="#262626" >Desorption</text>
<text x="524.4" y="575.7" font-size="16.4" text-anchor="middle" font-family="Liberation Mono" fill="#1a1a1a" stroke="#1a1a1a" stroke-width="0.3"><tspan dy="-0.8">(</tspan><tspan dy="0.8">d</tspan><tspan dy="-0.8">)</tspan></text>
<path d="M34.7 598H317.9V810" fill="none" stroke="#303030" stroke-width="1.15"/>
<path d="M34.7 597.6V810H318.3" fill="none" stroke="#111" stroke-width="1.25"/>
<path d="M31.5 810H34.7" stroke="#222" stroke-width="0.9"/>
<text x="26.2" y="813.15" font-size="9.5" text-anchor="end" font-family="Liberation Serif" fill="#262626" >0</text>
<path d="M31.5 786.44H34.7" stroke="#222" stroke-width="0.9"/>
<text x="26.2" y="789.51" font-size="9.5" text-anchor="end" font-family="Liberation Serif" fill="#262626" >5</text>
<path d="M31.5 762.89H34.7" stroke="#222" stroke-width="0.9"/>
<text x="26.2" y="765.88" font-size="9.5" text-anchor="end" font-family="Liberation Serif" fill="#262626" >10</text>
<path d="M31.5 739.33H34.7" stroke="#222" stroke-width="0.9"/>
<text x="26.2" y="742.24" font-size="9.5" text-anchor="end" font-family="Liberation Serif" fill="#262626" >15</text>
<path d="M31.5 715.78H34.7" stroke="#222" stroke-width="0.9"/>
<text x="26.2" y="718.61" font-size="9.5" text-anchor="end" font-family="Liberation Serif" fill="#262626" >20</text>
<path d="M31.5 692.22H34.7" stroke="#222" stroke-width="0.9"/>
<text x="26.2" y="694.97" font-size="9.5" text-anchor="end" font-family="Liberation Serif" fill="#262626" >25</text>
<path d="M31.5 668.67H34.7" stroke="#222" stroke-width="0.9"/>
<text x="26.2" y="671.34" font-size="9.5" text-anchor="end" font-family="Liberation Serif" fill="#262626" >30</text>
<path d="M31.5 645.11H34.7" stroke="#222" stroke-width="0.9"/>
<text x="26.2" y="647.7" font-size="9.5" text-anchor="end" font-family="Liberation Serif" fill="#262626" >35</text>
<path d="M31.5 621.56H34.7" stroke="#222" stroke-width="0.9"/>
<text x="26.2" y="624.07" font-size="9.5" text-anchor="end" font-family="Liberation Serif" fill="#262626" >40</text>
<path d="M31.5 598H34.7" stroke="#222" stroke-width="0.9"/>
<text x="26.2" y="600.43" font-size="9.5" text-anchor="end" font-family="Liberation Serif" fill="#262626" >45</text>
<path d="M34.7 810V813.3" stroke="#222" stroke-width="0.9"/>
<text x="34.4" y="823.6" font-size="9.5" text-anchor="middle" font-family="Liberation Serif" fill="#262626" >0</text>
<path d="M61.64 810V813.3" stroke="#222" stroke-width="0.9"/>
<text x="61.34" y="823.6" font-size="9.5" text-anchor="middle" font-family="Liberation Serif" fill="#262626" >0.1</text>
<path d="M88.57 810V813.3" stroke="#222" stroke-width="0.9"/>
<text x="88.27" y="823.6" font-size="9.5" text-anchor="middle" font-family="Liberation Serif" fill="#262626" >0.2</text>
<path d="M115.51 810V813.3" stroke="#222" stroke-width="0.9"/>
<text x="115.21" y="823.6" font-size="9.5" text-anchor="middle" font-family="Liberation Serif" fill="#262626" >0.3</text>
<path d="M142.44 810V813.3" stroke="#222" stroke-width="0.9"/>
<text x="142.14" y="823.6" font-size="9.5" text-anchor="middle" font-family="Liberation Serif" fill="#262626" >0.4</text>
<path d="M169.38 810V813.3" stroke="#222" stroke-width="0.9"/>
<text x="169.07" y="823.6" font-size="9.5" text-anchor="middle" font-family="Liberation Serif" fill="#262626" >0.5</text>
<path d="M196.31 810V813.3" stroke="#222" stroke-width="0.9"/>
<text x="196.01" y="823.6" font-size="9.5" text-anchor="middle" font-family="Liberation Serif" fill="#262626" >0.6</text>
<path d="M223.25 810V813.3" stroke="#222" stroke-width="0.9"/>
<text x="222.95" y="823.6" font-size="9.5" text-anchor="middle" font-family="Liberation Serif" fill="#262626" >0.7</text>
<path d="M250.18 810V813.3" stroke="#222" stroke-width="0.9"/>
<text x="249.88" y="823.6" font-size="9.5" text-anchor="middle" font-family="Liberation Serif" fill="#262626" >0.8</text>
<path d="M277.12 810V813.3" stroke="#222" stroke-width="0.9"/>
<text x="276.81" y="823.6" font-size="9.5" text-anchor="middle" font-family="Liberation Serif" fill="#262626" >0.9</text>
<path d="M304.05 810V813.3" stroke="#222" stroke-width="0.9"/>
<text x="303.75" y="823.6" font-size="9.5" text-anchor="middle" font-family="Liberation Serif" fill="#262626" >1</text>
<text y="839.7" font-size="12.5" font-family="Liberation Serif" fill="#262626"><tspan x="113.9">Relative</tspan><tspan x="159.7">Pressure</tspan><tspan x="205.0" letter-spacing="0.3">(P/P0)</tspan></text>
<text x="0" y="0" font-size="12.5" text-anchor="middle" font-family="Liberation Serif" fill="#262626" word-spacing="0.5" transform="translate(10.9 703.5) rotate(-90)">Quantity Adsorbed (cm³/g)</text>
<circle cx="35.6" cy="807.6" r="2.75" fill="#000"/>
<circle cx="36.3" cy="807.1" r="2.75" fill="#000"/>
<circle cx="37.3" cy="806.48" r="2.75" fill="#000"/>
<circle cx="38.5" cy="806" r="2.75" fill="#000"/>
<circle cx="39.4" cy="805.72" r="2.75" fill="#000"/>
<circle cx="40.3" cy="805.54" r="2.75" fill="#000"/>
<circle cx="41.2" cy="805.36" r="2.75" fill="#000"/>
<circle cx="42.1" cy="805.18" r="2.75" fill="#000"/>
<circle cx="43" cy="805" r="2.75" fill="#000"/>
<circle cx="43.9" cy="804.91" r="2.75" fill="#000"/>
<circle cx="44.9" cy="804.81" r="2.75" fill="#000"/>
<circle cx="45.9" cy="804.71" r="2.75" fill="#000"/>
<circle cx="46.9" cy="804.61" r="2.75" fill="#000"/>
<circle cx="47.9" cy="804.51" r="2.75" fill="#000"/>
<circle cx="48.9" cy="804.41" r="2.75" fill="#000"/>
<circle cx="50" cy="804.3" r="2.75" fill="#000"/>
<circle cx="51.1" cy="804.26" r="2.75" fill="#000"/>
<circle cx="52.2" cy="804.21" r="2.75" fill="#000"/>
<circle cx="53.3" cy="804.17" r="2.75" fill="#000"/>
<circle cx="54.5" cy="804.12" r="2.75" fill="#000"/>
<circle cx="55.7" cy="804.07" r="2.75" fill="#000"/>
<circle cx="56.9" cy="804.02" r="2.75" fill="#000"/>
<circle cx="58.1" cy="803.98" r="2.75" fill="#000"/>
<circle cx="59.4" cy="803.92" r="2.75" fill="#000"/>
<circle cx="60.7" cy="803.88" r="2.75" fill="#000"/>
<circle cx="62" cy="803.86" r="2.75" fill="#000"/>
<circle cx="63.3" cy="803.83" r="2.75" fill="#000"/>
<circle cx="64.7" cy="803.8" r="2.75" fill="#000"/>
<circle cx="66.1" cy="803.77" r="2.75" fill="#000"/>
<circle cx="67.5" cy="803.74" r="2.75" fill="#000"/>
<circle cx="68.9" cy="803.71" r="2.75" fill="#000"/>
<circle cx="70.4" cy="803.67" r="2.75" fill="#000"/>
<circle cx="71.9" cy="803.64" r="2.75" fill="#000"/>
<circle cx="73.8" cy="803.6" r="2.75" fill="#000"/>
<circle cx="79.6" cy="803.5" r="2.75" fill="#000"/>
<circle cx="85.8" cy="803.4" r="2.75" fill="#000"/>
<circle cx="91.9" cy="803.3" r="2.75" fill="#000"/>
<circle cx="97.9" cy="803.1" r="2.75" fill="#000"/>
<circle cx="103.7" cy="803" r="2.75" fill="#000"/>
<circle cx="109.7" cy="802.8" r="2.75" fill="#000"/>
<circle cx="115.8" cy="802.6" r="2.75" fill="#000"/>
<circle cx="124.8" cy="802.2" r="2.75" fill="#000"/>
<circle cx="134" cy="801.9" r="2.75" fill="#000"/>
<circle cx="143.4" cy="801.5" r="2.75" fill="#000"/>
<circle cx="152.9" cy="800.7" r="2.75" fill="#000"/>
<circle cx="157.7" cy="800.3" r="2.75" fill="#000"/>
<circle cx="163.8" cy="799.8" r="2.75" fill="#000"/>
<circle cx="169.9" cy="799.4" r="2.75" fill="#000"/>
<circle cx="175.9" cy="799" r="2.75" fill="#000"/>
<circle cx="181.9" cy="798.5" r="2.75" fill="#000"/>
<circle cx="188" cy="798" r="2.75" fill="#000"/>
<circle cx="194" cy="797.5" r="2.75" fill="#000"/>
<circle cx="200" cy="797.1" r="2.75" fill="#000"/>
<circle cx="206.1" cy="796.7" r="2.75" fill="#000"/>
<circle cx="212" cy="796.2" r="2.75" fill="#000"/>
<circle cx="218" cy="795.5" r="2.75" fill="#000"/>
<circle cx="224.1" cy="794.9" r="2.75" fill="#000"/>
<circle cx="230.2" cy="794.6" r="2.75" fill="#000"/>
<circle cx="236.2" cy="794" r="2.75" fill="#000"/>
<circle cx="242.3" cy="793.5" r="2.75" fill="#000"/>
<circle cx="248.4" cy="792.8" r="2.75" fill="#000"/>
<circle cx="254.5" cy="792.4" r="2.75" fill="#000"/>
<circle cx="260.6" cy="791.7" r="2.75" fill="#000"/>
<circle cx="266.4" cy="790.9" r="2.75" fill="#000"/>
<circle cx="272.5" cy="789.9" r="2.75" fill="#000"/>
<circle cx="278.6" cy="788.3" r="2.75" fill="#000"/>
<circle cx="280.7" cy="787.7" r="2.75" fill="#000"/>
<circle cx="282.6" cy="787.1" r="2.75" fill="#000"/>
<circle cx="284.7" cy="786.3" r="2.75" fill="#000"/>
<circle cx="290.3" cy="783" r="2.75" fill="#000"/>
<circle cx="293.8" cy="780.1" r="2.75" fill="#000"/>
<circle cx="296.7" cy="776.6" r="2.75" fill="#000"/>
<circle cx="298.3" cy="773.7" r="2.75" fill="#000"/>
<circle cx="299.6" cy="771.3" r="2.75" fill="#000"/>
<circle cx="301.2" cy="768.1" r="2.75" fill="#000"/>
<circle cx="302.3" cy="765.6" r="2.75" fill="#000"/>
<path d="M56.3 801.42L59.3 807.02L53.3 807.02Z" fill="#a0a0a0"/>
<path d="M63.1 801.22L66.1 806.82L60.1 806.82Z" fill="#a0a0a0"/>
<path d="M70.6 801.02L73.6 806.62L67.6 806.62Z" fill="#a0a0a0"/>
<path d="M78 800.82L81 806.42L75 806.42Z" fill="#a0a0a0"/>
<path d="M85.5 800.52L88.5 806.12L82.5 806.12Z" fill="#a0a0a0"/>
<path d="M89.4 800.42L92.4 806.02L86.4 806.02Z" fill="#a0a0a0"/>
<path d="M93.1 800.32L96.1 805.92L90.1 805.92Z" fill="#a0a0a0"/>
<path d="M100.5 800.12L103.5 805.72L97.5 805.72Z" fill="#a0a0a0"/>
<path d="M108.2 799.92L111.2 805.52L105.2 805.52Z" fill="#a0a0a0"/>
<path d="M115.7 799.62L118.7 805.22L112.7 805.22Z" fill="#a0a0a0"/>
<path d="M122.9 799.22L125.9 804.82L119.9 804.82Z" fill="#a0a0a0"/>
<path d="M131.2 799.02L134.2 804.62L128.2 804.62Z" fill="#a0a0a0"/>
<path d="M138.1 798.72L141.1 804.32L135.1 804.32Z" fill="#a0a0a0"/>
<path d="M145.7 798.32L148.7 803.92L142.7 803.92Z" fill="#a0a0a0"/>
<path d="M151.3 797.92L154.3 803.52L148.3 803.52Z" fill="#a0a0a0"/>
<path d="M160.1 795.92L163.1 801.52L157.1 801.52Z" fill="#a0a0a0"/>
<path d="M168.2 794.62L171.2 800.22L165.2 800.22Z" fill="#a0a0a0"/>
<path d="M175.4 794.22L178.4 799.82L172.4 799.82Z" fill="#a0a0a0"/>
<path d="M182.6 793.52L185.6 799.12L179.6 799.12Z" fill="#a0a0a0"/>
<path d="M190.2 793.02L193.2 798.62L187.2 798.62Z" fill="#a0a0a0"/>
<path d="M197.9 792.22L200.9 797.82L194.9 797.82Z" fill="#a0a0a0"/>
<path d="M205.9 791.52L208.9 797.12L202.9 797.12Z" fill="#a0a0a0"/>
<path d="M213.2 791.12L216.2 796.72L210.2 796.72Z" fill="#a0a0a0"/>
<path d="M220.8 790.32L223.8 795.92L217.8 795.92Z" fill="#a0a0a0"/>
<path d="M228.3 789.92L231.3 795.52L225.3 795.52Z" fill="#a0a0a0"/>
<path d="M235.9 789.32L238.9 794.92L232.9 794.92Z" fill="#a0a0a0"/>
<path d="M243.2 788.62L246.2 794.22L240.2 794.22Z" fill="#a0a0a0"/>
<path d="M250.8 788.02L253.8 793.62L247.8 793.62Z" fill="#a0a0a0"/>
<path d="M258.3 787.22L261.3 792.82L255.3 792.82Z" fill="#a0a0a0"/>
<path d="M265.9 785.92L268.9 791.52L262.9 791.52Z" fill="#a0a0a0"/>
<path d="M273.6 784.02L276.6 789.62L270.6 789.62Z" fill="#a0a0a0"/>
<path d="M276.2 783.52L279.2 789.12L273.2 789.12Z" fill="#a0a0a0"/>
<path d="M283.6 780.32L286.6 785.92L280.6 785.92Z" fill="#a0a0a0"/>
<path d="M288.4 777.42L291.4 783.02L285.4 783.02Z" fill="#a0a0a0"/>
<path d="M295.4 771.42L298.4 777.02L292.4 777.02Z" fill="#a0a0a0"/>
<path d="M298.6 765.82L301.6 771.42L295.6 771.42Z" fill="#a0a0a0"/>
<path d="M301.9 760.22L304.9 765.82L298.9 765.82Z" fill="#a0a0a0"/>
<rect x="252.1" y="602.8" width="57.6" height="30.4" fill="#fff" stroke="#333" stroke-width="0.8"/>
<circle cx="258.9" cy="610.5" r="2.7" fill="#000"/>
<text x="263.4" y="613.6" font-size="9.6" text-anchor="start" font-family="Liberation Serif" fill="#262626" >Adsorption</text>
<path d="M258.9 622.85L261.6 627.85L256.2 627.85Z" fill="#999"/>
<text x="263.4" y="628.6" font-size="9.6" text-anchor="start" font-family="Liberation Serif" fill="#262626" >Desorption</text>
<text x="161.4" y="871.6" font-size="16.4" text-anchor="middle" font-family="Liberation Mono" fill="#1a1a1a" stroke="#1a1a1a" stroke-width="0.3"><tspan dy="-0.8">(</tspan><tspan dy="0.8">e</tspan><tspan dy="-0.8">)</tspan></text>
<path d="M397.5 598H681.2V810" fill="none" stroke="#303030" stroke-width="1.15"/>
<path d="M397.5 597.6V810H681.6" fill="none" stroke="#111" stroke-width="1.25"/>
<path d="M394.3 810H397.5" stroke="#222" stroke-width="0.9"/>
<text x="389.2" y="812.5" font-size="9.5" text-anchor="end" font-family="Liberation Serif" fill="#262626" >0</text>
<path d="M394.3 767.6H397.5" stroke="#222" stroke-width="0.9"/>
<text x="389.2" y="770.1" font-size="9.5" text-anchor="end" font-family="Liberation Serif" fill="#262626" >0.04</text>
<path d="M394.3 725.2H397.5" stroke="#222" stroke-width="0.9"/>
<text x="389.2" y="727.7" font-size="9.5" text-anchor="end" font-family="Liberation Serif" fill="#262626" >0.08</text>
<path d="M394.3 682.8H397.5" stroke="#222" stroke-width="0.9"/>
<text x="389.2" y="685.3" font-size="9.5" text-anchor="end" font-family="Liberation Serif" fill="#262626" >0.12</text>
<path d="M394.3 640.4H397.5" stroke="#222" stroke-width="0.9"/>
<text x="389.2" y="642.9" font-size="9.5" text-anchor="end" font-family="Liberation Serif" fill="#262626" >0.16</text>
<path d="M394.3 598H397.5" stroke="#222" stroke-width="0.9"/>
<text x="389.2" y="600.5" font-size="9.5" text-anchor="end" font-family="Liberation Serif" fill="#262626" >0.2</text>
<path d="M397.5 810V813.3" stroke="#222" stroke-width="0.9"/>
<text x="397.5" y="823.7" font-size="9.5" text-anchor="middle" font-family="Liberation Serif" fill="#262626" >1</text>
<path d="M527.6 810V813.3" stroke="#222" stroke-width="0.9"/>
<text x="527.6" y="823.7" font-size="9.5" text-anchor="middle" font-family="Liberation Serif" fill="#262626" >10</text>
<path d="M657.7 810V813.3" stroke="#222" stroke-width="0.9"/>
<text x="657.7" y="823.7" font-size="9.5" text-anchor="middle" font-family="Liberation Serif" fill="#262626" >100</text>
<text x="490.3" y="844.4" font-size="12.55" text-anchor="start" font-family="Liberation Serif" fill="#262626" >Pore Diameter</text>
<text x="567.5" y="844.2" font-size="11.9" text-anchor="start" font-family="Liberation Serif" fill="#262626" >(</text>
<text x="571.8" y="844.4" font-size="12.2" font-family="Liberation Mono" fill="#262626" stroke="#262626" stroke-width="0.2" textLength="11.8" lengthAdjust="spacingAndGlyphs">nm</text>
<text x="584.2" y="844.2" font-size="11.9" text-anchor="start" font-family="Liberation Serif" fill="#262626" >)</text>
<text x="0" y="0" font-size="12.5" text-anchor="middle" font-family="Liberation Serif" fill="#262626" transform="translate(367.7 702.45) rotate(-90)">Pore Volume (cm³/g)</text>
<clipPath id="cf"><rect x="397.5" y="598" width="283.7" height="216"/></clipPath>
<g clip-path="url(#cf)">
<polyline points="429.9,807 432,807.3 434.2,807.4 436.5,807.5 438.9,807.4 441.6,807 446,806 449.9,806.7 453.9,805.5 458.2,805 462.3,803.5 465.7,799.1 468.2,799.1 471.1,797.7 474.3,800.9 477.8,800.7 481.3,798.7 484.6,801 487.9,799.4 491.5,801.6 495.2,800.9 499.6,802 503.8,803.8 508.1,802.6 513.2,805 518.2,803.1 523.4,804.1 529.2,807 536.5,804.1 543.8,803.1 553.3,804.1 563.2,803.6 573,803.1 581,803.4 592,800.9 610.1,802.2 626.5,799 641.9,798.2 657.3,797.8 675.5,803.4 682,803.4" fill="none" stroke="#111" stroke-width="1.1" stroke-linejoin="round"/>
<circle cx="429.9" cy="807" r="2.7" fill="#000"/>
<circle cx="432" cy="807.3" r="2.7" fill="#000"/>
<circle cx="434.2" cy="807.4" r="2.7" fill="#000"/>
<circle cx="436.5" cy="807.5" r="2.7" fill="#000"/>
<circle cx="438.9" cy="807.4" r="2.7" fill="#000"/>
<circle cx="441.6" cy="807" r="2.7" fill="#000"/>
<circle cx="446" cy="806" r="2.7" fill="#000"/>
<circle cx="449.9" cy="806.7" r="2.7" fill="#000"/>
<circle cx="453.9" cy="805.5" r="2.7" fill="#000"/>
<circle cx="458.2" cy="805" r="2.7" fill="#000"/>
<circle cx="462.3" cy="803.5" r="2.7" fill="#000"/>
<circle cx="465.7" cy="799.1" r="2.7" fill="#000"/>
<circle cx="468.2" cy="799.1" r="2.7" fill="#000"/>
<circle cx="471.1" cy="797.7" r="2.7" fill="#000"/>
<circle cx="474.3" cy="800.9" r="2.7" fill="#000"/>
<circle cx="477.8" cy="800.7" r="2.7" fill="#000"/>
<circle cx="481.3" cy="798.7" r="2.7" fill="#000"/>
<circle cx="484.6" cy="801" r="2.7" fill="#000"/>
<circle cx="487.9" cy="799.4" r="2.7" fill="#000"/>
<circle cx="491.5" cy="801.6" r="2.7" fill="#000"/>
<circle cx="495.2" cy="800.9" r="2.7" fill="#000"/>
<circle cx="499.6" cy="802" r="2.7" fill="#000"/>
<circle cx="503.8" cy="803.8" r="2.7" fill="#000"/>
<circle cx="508.1" cy="802.6" r="2.7" fill="#000"/>
<circle cx="513.2" cy="805" r="2.7" fill="#000"/>
<circle cx="518.2" cy="803.1" r="2.7" fill="#000"/>
<circle cx="523.4" cy="804.1" r="2.7" fill="#000"/>
<circle cx="529.2" cy="807" r="2.7" fill="#000"/>
<circle cx="536.5" cy="804.1" r="2.7" fill="#000"/>
<circle cx="543.8" cy="803.1" r="2.7" fill="#000"/>
<circle cx="553.3" cy="804.1" r="2.7" fill="#000"/>
<circle cx="563.2" cy="803.6" r="2.7" fill="#000"/>
<circle cx="573" cy="803.1" r="2.7" fill="#000"/>
<circle cx="581" cy="803.4" r="2.7" fill="#000"/>
<circle cx="592" cy="800.9" r="2.7" fill="#000"/>
<circle cx="610.1" cy="802.2" r="2.7" fill="#000"/>
<circle cx="626.5" cy="799" r="2.7" fill="#000"/>
<circle cx="641.9" cy="798.2" r="2.7" fill="#000"/>
<circle cx="657.3" cy="797.8" r="2.7" fill="#000"/>
<circle cx="675.5" cy="803.4" r="2.7" fill="#000"/>
<polyline points="429.5,808.9 432,809 434.5,809 437,809 439.5,808.9 442,808.8 444.6,808.6 447.2,808.3 449.8,808 452.4,807.5 455,806.9 458.2,803 462,789.6 465.7,778.7 469.9,786 473.3,798 476.2,801.6 479.5,802 483,802.2 486.5,802.5 490,802.8 493.5,803.1 497,803.4 500.5,803.8 504,804.3 507.8,804.6 511.6,804.8 515.4,804.8 519.2,804.6 522.8,804.8 526.3,805.4 531.8,804.6 543.5,802.6 553.3,801.9 563.2,801.6 573,801.2 589.3,801.6 607.6,799 636.4,800.4 667.5,805.1" fill="none" stroke="#a0a0a0" stroke-width="1.1" stroke-linejoin="round"/>
<path d="M429.5 805.99L432.3 811.28L426.7 811.28Z" fill="#a0a0a0"/>
<path d="M432 806.09L434.8 811.38L429.2 811.38Z" fill="#a0a0a0"/>
<path d="M434.5 806.09L437.3 811.38L431.7 811.38Z" fill="#a0a0a0"/>
<path d="M437 806.09L439.8 811.38L434.2 811.38Z" fill="#a0a0a0"/>
<path d="M439.5 805.99L442.3 811.28L436.7 811.28Z" fill="#a0a0a0"/>
<path d="M442 805.88L444.8 811.18L439.2 811.18Z" fill="#a0a0a0"/>
<path d="M444.6 805.69L447.4 810.99L441.8 810.99Z" fill="#a0a0a0"/>
<path d="M447.2 805.38L450 810.68L444.4 810.68Z" fill="#a0a0a0"/>
<path d="M449.8 805.09L452.6 810.38L447 810.38Z" fill="#a0a0a0"/>
<path d="M452.4 804.59L455.2 809.88L449.6 809.88Z" fill="#a0a0a0"/>
<path d="M455 803.99L457.8 809.28L452.2 809.28Z" fill="#a0a0a0"/>
<path d="M458.2 800.09L461 805.38L455.4 805.38Z" fill="#a0a0a0"/>
<path d="M462 786.69L464.8 791.99L459.2 791.99Z" fill="#a0a0a0"/>
<path d="M465.7 775.79L468.5 781.09L462.9 781.09Z" fill="#a0a0a0"/>
<path d="M469.9 783.09L472.7 788.38L467.1 788.38Z" fill="#a0a0a0"/>
<path d="M473.3 795.09L476.1 800.38L470.5 800.38Z" fill="#a0a0a0"/>
<path d="M476.2 798.69L479 803.99L473.4 803.99Z" fill="#a0a0a0"/>
<path d="M479.5 799.09L482.3 804.38L476.7 804.38Z" fill="#a0a0a0"/>
<path d="M483 799.29L485.8 804.59L480.2 804.59Z" fill="#a0a0a0"/>
<path d="M486.5 799.59L489.3 804.88L483.7 804.88Z" fill="#a0a0a0"/>
<path d="M490 799.88L492.8 805.18L487.2 805.18Z" fill="#a0a0a0"/>
<path d="M493.5 800.19L496.3 805.49L490.7 805.49Z" fill="#a0a0a0"/>
<path d="M497 800.49L499.8 805.78L494.2 805.78Z" fill="#a0a0a0"/>
<path d="M500.5 800.88L503.3 806.18L497.7 806.18Z" fill="#a0a0a0"/>
<path d="M504 801.38L506.8 806.68L501.2 806.68Z" fill="#a0a0a0"/>
<path d="M507.8 801.69L510.6 806.99L505 806.99Z" fill="#a0a0a0"/>
<path d="M511.6 801.88L514.4 807.18L508.8 807.18Z" fill="#a0a0a0"/>
<path d="M515.4 801.88L518.2 807.18L512.6 807.18Z" fill="#a0a0a0"/>
<path d="M519.2 801.69L522 806.99L516.4 806.99Z" fill="#a0a0a0"/>
<path d="M522.8 801.88L525.6 807.18L520 807.18Z" fill="#a0a0a0"/>
<path d="M526.3 802.49L529.1 807.78L523.5 807.78Z" fill="#a0a0a0"/>
<path d="M531.8 801.69L534.6 806.99L529 806.99Z" fill="#a0a0a0"/>
<path d="M543.5 799.69L546.3 804.99L540.7 804.99Z" fill="#a0a0a0"/>
<path d="M553.3 798.99L556.1 804.28L550.5 804.28Z" fill="#a0a0a0"/>
<path d="M563.2 798.69L566 803.99L560.4 803.99Z" fill="#a0a0a0"/>
<path d="M573 798.29L575.8 803.59L570.2 803.59Z" fill="#a0a0a0"/>
<path d="M589.3 798.69L592.1 803.99L586.5 803.99Z" fill="#a0a0a0"/>
<path d="M607.6 796.09L610.4 801.38L604.8 801.38Z" fill="#a0a0a0"/>
<path d="M636.4 797.49L639.2 802.78L633.6 802.78Z" fill="#a0a0a0"/>
<path d="M667.5 802.19L670.3 807.49L664.7 807.49Z" fill="#a0a0a0"/>
</g>
<rect x="606.5" y="604.2" width="67.5" height="30.4" fill="#fff" stroke="#333" stroke-width="0.8"/>
<path d="M610.2 612H626" stroke="#111" stroke-width="1.1"/>
<circle cx="618.3" cy="612" r="2.95" fill="#000"/>
<text x="627.7" y="615.1" font-size="9.6" text-anchor="start" font-family="Liberation Serif" fill="#262626" >Adsorption</text>
<path d="M610.2 627.1H626" stroke="#a0a0a0" stroke-width="1.1"/>
<path d="M618.3 624.51L620.75 629.22L615.85 629.22Z" fill="#999"/>
<text x="627.7" y="630.2" font-size="9.6" text-anchor="start" font-family="Liberation Serif" fill="#262626" >Desorption</text>
<text x="524.4" y="871.6" font-size="16.4" text-anchor="middle" font-family="Liberation Mono" fill="#1a1a1a" stroke="#1a1a1a" stroke-width="0.3"><tspan dy="-0.8">(</tspan><tspan dy="0.8">f</tspan><tspan dy="-0.8">)</tspan></text>
</svg>
</body></html>
